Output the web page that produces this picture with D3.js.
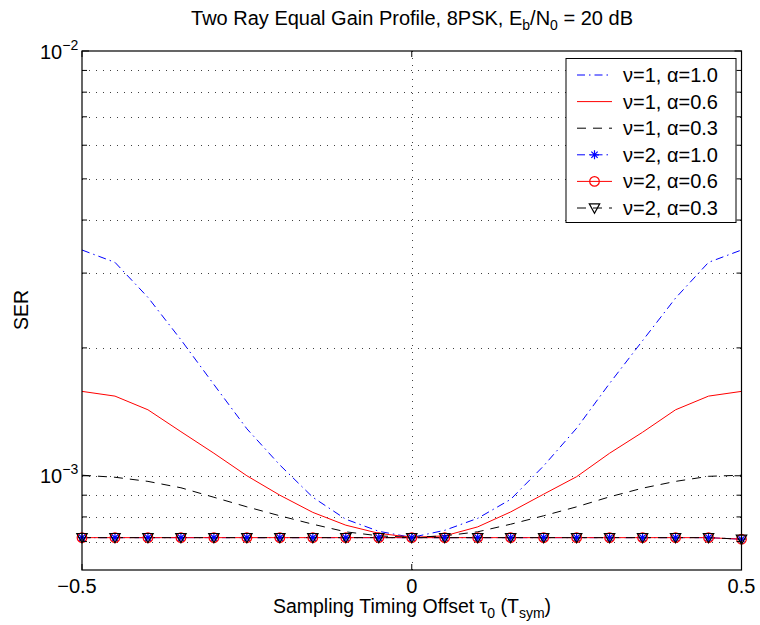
<!DOCTYPE html>
<html>
<head>
<meta charset="utf-8">
<script src="https://cdn.jsdelivr.net/npm/d3@7"></script>
<style>
  html, body { margin: 0; padding: 0; background: #fff; }
  svg { display: block; font-family: "Liberation Sans", Arial, Helvetica, sans-serif; }
</style>
</head>
<body>
<svg id="chart" width="760" height="625"></svg>
<script>
// Sampling timing offset tau_0 (in symbol periods)
const tau = [-0.5, -0.45, -0.4, -0.35, -0.3, -0.25, -0.2, -0.15, -0.1, -0.05, 0,
             0.05, 0.1, 0.15, 0.2, 0.25, 0.3, 0.35, 0.4, 0.45, 0.5];

// Symbol error rate, nu = 1
const serNu1A10 = [3.40e-3, 3.18e-3, 2.63e-3, 2.09e-3, 1.64e-3, 1.29e-3, 1.06e-3, 0.89e-3, 0.79e-3, 0.74e-3, 0.716e-3,
                   0.744e-3, 0.794e-3, 0.88e-3, 1.055e-3, 1.294e-3, 1.65e-3, 2.08e-3, 2.62e-3, 3.18e-3, 3.40e-3];
const serNu1A06 = [1.58e-3, 1.54e-3, 1.43e-3, 1.27e-3, 1.13e-3, 1.0e-3, 0.90e-3, 0.82e-3, 0.765e-3, 0.732e-3, 0.716e-3,
                   0.722e-3, 0.758e-3, 0.822e-3, 0.905e-3, 0.995e-3, 1.13e-3, 1.266e-3, 1.43e-3, 1.54e-3, 1.58e-3];
const serNu1A03 = [1.003e-3, 0.992e-3, 0.970e-3, 0.937e-3, 0.890e-3, 0.845e-3, 0.805e-3, 0.769e-3, 0.738e-3, 0.722e-3, 0.716e-3,
                   0.722e-3, 0.738e-3, 0.769e-3, 0.805e-3, 0.845e-3, 0.892e-3, 0.935e-3, 0.970e-3, 0.997e-3, 1.003e-3];

// Symbol error rate, nu = 2
const serNu2A10 = [0.715e-3, 0.715e-3, 0.715e-3, 0.715e-3, 0.715e-3, 0.715e-3, 0.715e-3, 0.715e-3, 0.715e-3, 0.715e-3, 0.715e-3,
                   0.715e-3, 0.715e-3, 0.715e-3, 0.715e-3, 0.715e-3, 0.715e-3, 0.715e-3, 0.715e-3, 0.715e-3, 0.709e-3];
const serNu2A06 = [0.715e-3, 0.715e-3, 0.715e-3, 0.715e-3, 0.715e-3, 0.715e-3, 0.715e-3, 0.715e-3, 0.715e-3, 0.715e-3, 0.715e-3,
                   0.715e-3, 0.715e-3, 0.715e-3, 0.715e-3, 0.715e-3, 0.715e-3, 0.715e-3, 0.715e-3, 0.715e-3, 0.709e-3];
const serNu2A03 = [0.715e-3, 0.715e-3, 0.715e-3, 0.715e-3, 0.715e-3, 0.715e-3, 0.715e-3, 0.715e-3, 0.715e-3, 0.715e-3, 0.715e-3,
                   0.715e-3, 0.715e-3, 0.715e-3, 0.715e-3, 0.715e-3, 0.715e-3, 0.715e-3, 0.715e-3, 0.715e-3, 0.709e-3];

const seriesNames = ["ν=1, α=1.0", "ν=1, α=0.6", "ν=1, α=0.3", "ν=2, α=1.0", "ν=2, α=0.6", "ν=2, α=0.3"];

// Axis ticks and labels
const xTicks = [-0.5, 0, 0.5];
const xTickLabels = ["\u22120.5", "0", "0.5"];
const yMajorTicks = [1e-3, 1e-2];
const yMajorExponents = ["\u22123", "\u22122"];
const yMinorTicks = [7e-4, 8e-4, 9e-4, 2e-3, 3e-3, 4e-3, 5e-3, 6e-3, 7e-3, 8e-3, 9e-3];

// ---------------------------------------------------------------------------
const svg = d3.select("#chart");
const plot = { left: 82, right: 741.5, top: 51, bottom: 570 };

const x = d3.scaleLinear().domain([-0.5, 0.5]).range([plot.left, plot.right]);
const y = d3.scaleLog().domain([6e-4, 1e-2]).range([plot.bottom, plot.top]);

const styles = [
  { data: serNu1A10, color: "#0000ff", dash: "8,4,1.5,4", marker: null },
  { data: serNu1A06, color: "#ff0000", dash: null, marker: null },
  { data: serNu1A03, color: "#000000", dash: "9,7", marker: null },
  { data: serNu2A10, color: "#0000ff", dash: "8,4,1.5,4", marker: "star" },
  { data: serNu2A06, color: "#ff0000", dash: null, marker: "circle" },
  { data: serNu2A03, color: "#000000", dash: "9,7", marker: "triangle" }
];

// Grid (dotted)
const grid = svg.append("g").attr("stroke", "#404040").attr("stroke-width", 1)
  .attr("stroke-dasharray", "1,6").attr("shape-rendering", "crispEdges");
yMinorTicks.concat([1e-3]).forEach(v => {
  grid.append("line").attr("x1", plot.left).attr("x2", plot.right)
    .attr("y1", Math.round(y(v)) + 0.5).attr("y2", Math.round(y(v)) + 0.5);
});
grid.append("line").attr("x1", Math.round(x(0)) + 0.5).attr("x2", Math.round(x(0)) + 0.5)
  .attr("y1", plot.top).attr("y2", plot.bottom);

// Curves
const line = d3.line().x((d, i) => x(tau[i])).y(d => y(d));
const curves = svg.append("g").attr("fill", "none");
styles.forEach(s => {
  curves.append("path").datum(s.data).attr("d", line)
    .attr("stroke", s.color).attr("stroke-width", 1)
    .attr("stroke-dasharray", s.dash);
});

function drawMarker(g, type, cx, cy, color) {
  if (type === "star") {
    const r = 4.5;
    const p = d3.path();
    p.moveTo(cx - r, cy); p.lineTo(cx + r, cy);
    p.moveTo(cx, cy - r); p.lineTo(cx, cy + r);
    p.moveTo(cx - r * 0.7, cy - r * 0.7); p.lineTo(cx + r * 0.7, cy + r * 0.7);
    p.moveTo(cx - r * 0.7, cy + r * 0.7); p.lineTo(cx + r * 0.7, cy - r * 0.7);
    g.append("path").attr("d", p.toString()).attr("stroke", color).attr("stroke-width", 1.2).attr("fill", "none");
  } else if (type === "circle") {
    g.append("circle").attr("cx", cx).attr("cy", cy).attr("r", 4.8)
      .attr("stroke", color).attr("stroke-width", 1.2).attr("fill", "none");
  } else if (type === "triangle") {
    const r = 5.2;
    g.append("path").attr("d", `M${cx - r},${cy - r * 0.8}L${cx + r},${cy - r * 0.8}L${cx},${cy + r}Z`)
      .attr("stroke", color).attr("stroke-width", 1.2).attr("fill", "none");
  }
}

// Markers, drawn in series order so the last series sits on top
const markers = svg.append("g");
styles.forEach(s => {
  if (!s.marker) return;
  s.data.forEach((v, i) => drawMarker(markers, s.marker, x(tau[i]), y(v), s.color));
});

// Axes frame
svg.append("rect").attr("x", plot.left).attr("y", plot.top)
  .attr("width", plot.right - plot.left).attr("height", plot.bottom - plot.top)
  .attr("fill", "none").attr("stroke", "#000").attr("stroke-width", 1.2);

// Ticks (inward, both sides)
const ticks = svg.append("g").attr("stroke", "#000").attr("stroke-width", 1);
xTicks.forEach(t => {
  ticks.append("line").attr("x1", x(t)).attr("x2", x(t)).attr("y1", plot.bottom).attr("y2", plot.bottom - 6);
  ticks.append("line").attr("x1", x(t)).attr("x2", x(t)).attr("y1", plot.top).attr("y2", plot.top + 6);
});
yMajorTicks.concat(yMinorTicks).forEach(v => {
  const len = yMajorTicks.includes(v) ? 7 : 5;
  ticks.append("line").attr("x1", plot.left).attr("x2", plot.left + len).attr("y1", y(v)).attr("y2", y(v));
  ticks.append("line").attr("x1", plot.right).attr("x2", plot.right - len).attr("y1", y(v)).attr("y2", y(v));
});

// Tick labels
const xLabelG = svg.append("g").attr("font-size", 20).attr("text-anchor", "middle").attr("fill", "#000");
xTicks.forEach((t, i) => {
  xLabelG.append("text").attr("x", x(t) + (i === 0 ? -5 : 0)).attr("y", 593).text(xTickLabels[i]);
});
const yLabelG = svg.append("g").attr("fill", "#000");
yMajorTicks.forEach((v, i) => {
  const tx = yLabelG.append("text").attr("x", 40).attr("y", y(v) + 7.5).attr("font-size", 20);
  tx.append("tspan").text("10");
  tx.append("tspan").attr("font-size", 14).attr("dy", -9).text(yMajorExponents[i]);
});

// Axis labels
const xl = svg.append("text").attr("x", 412).attr("y", 613).attr("text-anchor", "middle").attr("font-size", 19.5);
xl.append("tspan").text("Sampling Timing Offset \u03c4");
xl.append("tspan").attr("font-size", 14).attr("dy", 5).text("0");
xl.append("tspan").attr("dy", -5).text(" (T");
xl.append("tspan").attr("font-size", 14).attr("dy", 5).text("sym");
xl.append("tspan").attr("dy", -5).text(")");

svg.append("text").attr("transform", "translate(28,310) rotate(-90)")
  .attr("text-anchor", "middle").attr("font-size", 19.5).text("SER");

// Title
const title = svg.append("text").attr("x", 412).attr("y", 25).attr("text-anchor", "middle").attr("font-size", 20);
title.append("tspan").text("Two Ray Equal Gain Profile, 8PSK, E");
title.append("tspan").attr("font-size", 14).attr("dy", 5).text("b");
title.append("tspan").attr("dy", -5).text("/N");
title.append("tspan").attr("font-size", 14).attr("dy", 5).text("0");
title.append("tspan").attr("dy", -5).text(" = 20 dB");

// Legend
const legend = svg.append("g");
legend.append("rect").attr("x", 566).attr("y", 58.5).attr("width", 170).attr("height", 164)
  .attr("fill", "#fff").attr("stroke", "#000").attr("stroke-width", 1);
styles.forEach((s, i) => {
  const ly = 75 + i * 26.6;
  legend.append("line").attr("x1", 577).attr("x2", 612).attr("y1", ly).attr("y2", ly)
    .attr("stroke", s.color).attr("stroke-width", 1).attr("stroke-dasharray", s.dash);
  if (s.marker) drawMarker(legend, s.marker, 594.5, ly, s.color);
  legend.append("text").attr("x", 623).attr("y", ly + 7).attr("font-size", 20).text(seriesNames[i]);
});
</script>
</body>
</html>
